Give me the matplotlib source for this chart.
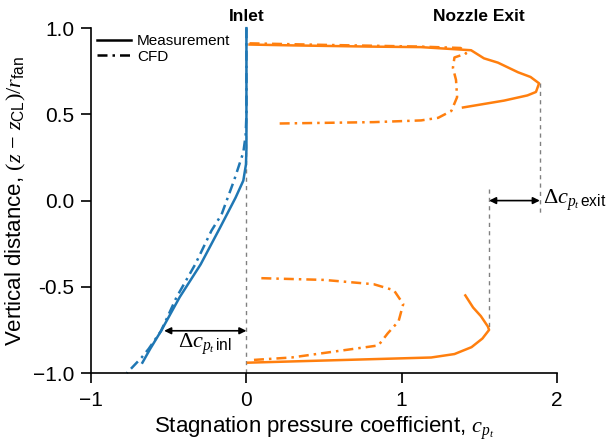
import numpy as np
import matplotlib
matplotlib.use("Agg")
import matplotlib.pyplot as plt
from matplotlib.lines import Line2D

plt.rcParams['font.family'] = ['Liberation Sans', 'DejaVu Sans']
plt.rcParams['mathtext.fontset'] = 'custom'
plt.rcParams['mathtext.rm'] = 'Liberation Serif'
plt.rcParams['mathtext.it'] = 'Liberation Serif:italic'
plt.rcParams['mathtext.sf'] = 'Liberation Sans'

# inlet profiles (blue)
inlet_meas_x = [0.0, 0.0, 0.0, -0.003, -0.02, -0.07, -0.17, -0.295, -0.43, -0.55, -0.62, -0.67]
inlet_meas_y = [1.0, 0.6, 0.3, 0.21, 0.116, 0.017, -0.157, -0.37, -0.56, -0.756, -0.86, -0.94]
inlet_cfd_x = [0.0, 0.0, -0.005, -0.02, -0.08, -0.16, -0.225, -0.33, -0.45, -0.55, -0.63, -0.675, -0.77]
inlet_cfd_y = [1.0, 0.5, 0.38, 0.28, 0.116, -0.08, -0.174, -0.37, -0.56, -0.756, -0.86, -0.91, -1.0]

# nozzle exit profiles (orange), upper and lower parts
exit_meas_up_x = [0.02, 0.3, 0.8, 1.125, 1.447, 1.53, 1.62, 1.75, 1.83, 1.885, 1.865, 1.81, 1.66, 1.395]
exit_meas_up_y = [0.905, 0.90, 0.893, 0.89, 0.872, 0.825, 0.80, 0.744, 0.717, 0.68, 0.63, 0.61, 0.58, 0.54]
exit_meas_lo_x = [1.41, 1.46, 1.51, 1.555, 1.563, 1.52, 1.45, 1.34, 1.19, 0.6, 0.01]
exit_meas_lo_y = [-0.55, -0.62, -0.67, -0.73, -0.75, -0.80, -0.85, -0.89, -0.91, -0.925, -0.94]
exit_cfd_up_x = [0.02, 0.5, 1.125, 1.38, 1.415, 1.34, 1.33, 1.35, 1.357, 1.32, 1.235, 1.125, 0.82, 0.205]
exit_cfd_up_y = [0.912, 0.903, 0.893, 0.885, 0.853, 0.83, 0.77, 0.70, 0.60, 0.52, 0.48, 0.465, 0.455, 0.447]
exit_cfd_lo_x = [0.096, 0.50, 0.82, 0.95, 1.01, 0.98, 0.91, 0.85, 0.61, 0.29, 0.03]
exit_cfd_lo_y = [-0.45, -0.46, -0.485, -0.52, -0.60, -0.70, -0.77, -0.84, -0.87, -0.91, -0.925]

# delta markers
inl_left, inl_right, inl_y = -0.53, 0.0, -0.755
exit_left, exit_right, exit_y = 1.563, 1.89, 0.0

blue = '#1f77b4'
orange = '#ff7f0e'
dashdot = (0, (4, 2, 1, 2))
lw = 1.8

fig = plt.figure(figsize=(6.12, 4.47), dpi=100)
ax = fig.add_axes([0.149, 0.1655, 0.761, 0.7715])

# reference dashed lines
ax.plot([0, 0], [-1, 1], color='gray', ls=(0, (3, 3)), lw=1.0)
ax.plot([exit_left, exit_left], [0.07, -0.75], color='gray', ls=(0, (3, 3)), lw=1.0)
ax.plot([exit_right, exit_right], [0.68, -0.07], color='gray', ls=(0, (3, 3)), lw=1.0)

ax.plot(inlet_meas_x, inlet_meas_y, color=blue, lw=lw, clip_on=False)
ax.plot(inlet_cfd_x, inlet_cfd_y, color=blue, lw=lw, ls=dashdot, clip_on=False)
ax.plot(exit_meas_up_x, exit_meas_up_y, color=orange, lw=lw)
ax.plot(exit_meas_lo_x, exit_meas_lo_y, color=orange, lw=lw)
ax.plot(exit_cfd_up_x, exit_cfd_up_y, color=orange, lw=lw, ls=dashdot)
ax.plot(exit_cfd_lo_x, exit_cfd_lo_y, color=orange, lw=lw, ls=dashdot)

arrow = dict(arrowstyle='<|-|>', color='black', lw=1.2, shrinkA=0, shrinkB=0,
             mutation_scale=10)
ax.annotate('', xy=(inl_left, inl_y), xytext=(inl_right, inl_y), arrowprops=arrow)
ax.annotate('', xy=(exit_left, exit_y), xytext=(exit_right, exit_y), arrowprops=arrow)
ax.text(-0.265, -0.835, r'$\Delta c_{p_t\,\mathsf{inl}}$', fontsize=16, ha='center', va='center')
ax.text(1.91, 0.0, r'$\Delta c_{p_t\,\mathsf{exit}}$', fontsize=16, ha='left', va='center',
        clip_on=False)

ax.text(0.0, 1.07, 'Inlet', fontsize=12.5, fontweight='bold', ha='center', va='center')
ax.text(1.5, 1.065, 'Nozzle Exit', fontsize=12.5, fontweight='bold', ha='center', va='center')

ax.set_xlim(-1, 2)
ax.set_ylim(-1, 1)
ax.set_xticks([-1, 0, 1, 2])
ax.set_xticklabels(['\u22121', '0', '1', '2'])
ax.set_yticks([-1.0, -0.5, 0.0, 0.5, 1.0])
ax.set_yticklabels(['\u22121.0', '-0.5', '0.0', '0.5', '1.0'])
ax.tick_params(axis='x', labelsize=15, length=7, width=1.2, direction='out', pad=6)
ax.tick_params(axis='y', labelsize=15, length=7, width=1.2, direction='out', pad=5)
for s in ['top', 'right']:
    ax.spines[s].set_visible(False)
for s in ['left', 'bottom']:
    ax.spines[s].set_linewidth(1.2)

ax.set_xlabel(r'Stagnation pressure coefficient, $c_{p_t}$', fontsize=16, labelpad=3)
ax.set_ylabel(r'Vertical distance, $(z\,-\,z_{\mathsf{CL}})/r_{\mathsf{fan}}$', fontsize=16, labelpad=4)

handles = [Line2D([], [], color='black', lw=lw),
           Line2D([], [], color='black', lw=lw, ls=dashdot)]
ax.legend(handles, ['Measurement', 'CFD'], loc='upper left', frameon=False,
          fontsize=11, handlelength=2.2, handletextpad=0.4, labelspacing=0.1,
          borderaxespad=0.0, bbox_to_anchor=(0.0, 1.0))

fig.savefig('out.png', dpi=100)
